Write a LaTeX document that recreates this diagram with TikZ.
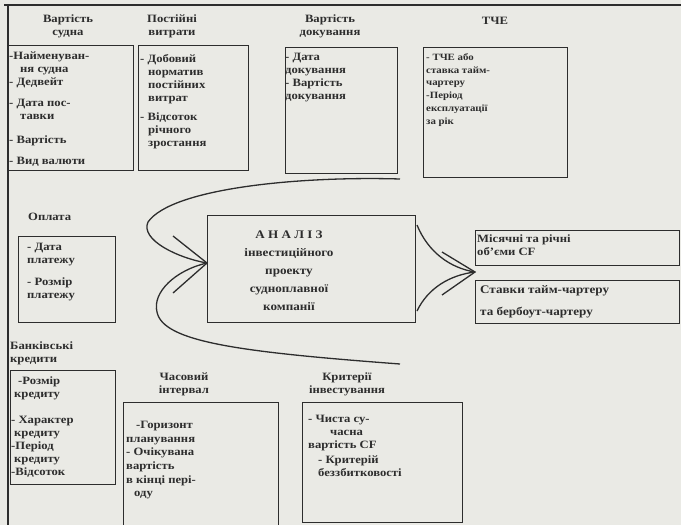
\documentclass[tikz,border=0pt]{standalone}
\usepackage{fontspec}
\setmainfont{Liberation Serif}[FakeStretch=1.13]
\definecolor{paper}{RGB}{234,234,229}
\definecolor{ink}{RGB}{45,45,45}
\newcommand\fA{\fontsize{11.2}{13}\selectfont\bfseries}
\newcommand\fB{\fontsize{9.6}{12.8}\selectfont\bfseries}
\newcommand\fC{\fontsize{11.6}{18}\selectfont\bfseries}
\newcommand\fD{\fontsize{11.6}{22}\selectfont\bfseries}
\newcommand\fE{\fontsize{11.2}{13.6}\selectfont\bfseries}
\begin{document}
\begin{tikzpicture}[x=1pt,y=-1pt,
  box/.style={draw=ink, line width=1.4pt, anchor=north west, inner sep=0pt},
  itm/.style={inner sep=0pt, anchor=north west, align=left, font=\fA, text=ink},
  hdr/.style={inner sep=0pt, anchor=north, align=center, font=\fA, text=ink},
  crv/.style={draw=ink, line width=1.3pt}]
\useasboundingbox (0,0) rectangle (681,525);
\fill[paper] (0,0) rectangle (681,525);
% frame
\coordinate (ftl) at (4,5);
\coordinate (ftr) at (681,5);
\coordinate (flt) at (8,5);
\coordinate (flb) at (8,526);
\draw[ink, line width=2pt] (ftl) -- (ftr);
\draw[ink, line width=1.5pt] (flt) -- (flb);
% boxes
\node[box, minimum width=125pt, minimum height=125pt] (b1) at (8,45) {};
\node[box, minimum width=110pt, minimum height=125pt] (b2) at (138,45) {};
\node[box, minimum width=112pt, minimum height=126pt] (b3) at (285,47) {};
\node[box, minimum width=144pt, minimum height=130pt] (b4) at (423,47) {};
\node[box, minimum width=97pt, minimum height=86pt] (bo) at (18,236) {};
\node[box, minimum width=105pt, minimum height=114pt] (bk) at (10,370) {};
\node[box, minimum width=155pt, minimum height=130pt] (bc) at (123,402) {};
\node[box, minimum width=160pt, minimum height=120pt] (bi) at (302,402) {};
\node[box, minimum width=208pt, minimum height=107pt] (an) at (207,215) {};
\node[box, minimum width=204pt, minimum height=35pt] (r1) at (475,230) {};
\node[box, minimum width=204pt, minimum height=43pt] (r2) at (475,280) {};
% headers
\node[hdr] (h1) at (68,13.4) {\strut Вартість\\судна};
\node[hdr] (h2) at (172,13.4) {\strut Постійні\\витрати};
\node[hdr] (h3) at (330,13.4) {\strut Вартість\\докування};
\node[hdr] (h4) at (495,15.4) {\strut ТЧЕ};
\node[itm] (h5) at (28,211.4) {\strut Оплата};
\node[itm] (h6) at (10,340.4) {\strut Банківські\\кредити};
\node[hdr] (h7) at (184,371.4) {\strut Часовий\\інтервал};
\node[hdr] (h8) at (347,371.4) {\strut Критерії\\інвестування};
% box 1
\node[itm] (t11) at (9,50.4) {\strut -Найменуван-\\\hspace*{11pt}ня судна};
\node[itm] (t12) at (9,76.4) {\strut - Дедвейт};
\node[itm] (t13) at (9,97.4) {\strut - Дата пос-\\\hspace*{11pt}тавки};
\node[itm] (t14) at (9,134.4) {\strut - Вартість};
\node[itm] (t15) at (9,155.4) {\strut - Вид валюти};
% box 2
\node[itm] (t21) at (140,53.4) {\strut - Добовий\\\hspace*{8pt}норматив\\\hspace*{8pt}постійних\\\hspace*{8pt}витрат};
\node[itm] (t22) at (140,111.4) {\strut - Відсоток\\\hspace*{8pt}річного\\\hspace*{8pt}зростання};
% box 3
\node[itm] (t31) at (285,51.4) {\strut - Дата\\докування};
\node[itm] (t32) at (285,77.4) {\strut - Вартість\\докування};
% box 4
\node[itm, font=\fB] (t41) at (426,51.2) {\strut - ТЧЕ або\\ставка тайм-\\чартеру\\-Період\\експлуатації\\за рік};
% Оплата
\node[itm] (to1) at (27,241.4) {\strut - Дата\\платежу};
\node[itm] (to2) at (27,276.4) {\strut - Розмір\\платежу};
% Банківські кредити
\node[itm] (tk1) at (14,375.4) {\strut \hspace*{4pt}-Розмір\\кредиту};
\node[itm] (tk2) at (11,414) {\strut - Характер\\\hspace*{3pt}кредиту\\-Період\\\hspace*{3pt}кредиту\\-Відсоток};
% Часовий інтервал
\node[itm, font=\fE] (tc1) at (126,419) {\strut \hspace*{10pt}-Горизонт\\планування\\- Очікувана\\вартість\\в кінці пері-\\\hspace*{8pt}оду};
% Критерії
\node[itm] (ti1) at (308,413.4) {\strut - Чиста су-\\\hspace*{22pt}часна\\вартість CF};
\node[itm] (ti2) at (318,454.4) {\strut - Критерій\\беззбитковості};
% centre
\node[hdr, font=\fC] (ta) at (289,225.2) {\strut А Н А Л І З\\інвестиційного\\проекту\\судноплавної\\компанії};
% right
\node[itm] (tr1) at (477,233.4) {\strut Місячні та річні\\об’єми CF};
\node[itm, font=\fD] (tr2) at (480,277.8) {\strut Ставки тайм-чартеру\\та бербоут-чартеру};
% left lens and chevron
\coordinate (lt) at (207,263);
\coordinate (lu) at (400,179);
\coordinate (ll) at (400,364);
\coordinate (lc1) at (173,236);
\coordinate (lc2) at (173,293);
\draw[crv] (lu) .. controls (300,176) and (172,188) .. (148,222) .. controls (140,240) and (178,258) .. (lt);
\draw[crv] (lt) .. controls (176,270) and (152,292) .. (157,312) .. controls (163,342) and (240,352) .. (ll);
\draw[crv] (lc1) -- (lt) -- (lc2);
% right lens and chevron
\coordinate (rt) at (475,272);
\coordinate (ru) at (417,225);
\coordinate (rl) at (417,311);
\coordinate (rc1) at (442,252);
\coordinate (rc2) at (442,295);
\draw[crv] (ru) .. controls (428,252) and (450,268) .. (rt);
\draw[crv] (rl) .. controls (428,288) and (450,275) .. (rt);
\draw[crv] (rc1) -- (rt) -- (rc2);
\end{tikzpicture}
\end{document}
